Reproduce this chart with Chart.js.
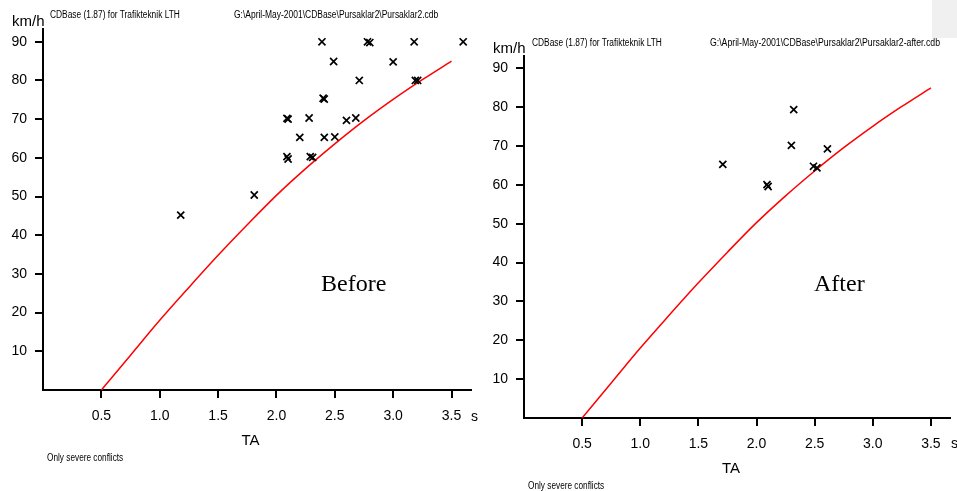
<!DOCTYPE html>
<html><head><meta charset="utf-8">
<script src="https://cdn.jsdelivr.net/npm/chart.js@4"></script>
<style>
html,body{margin:0;padding:0;background:#fff}
body{width:957px;height:491px;position:relative;overflow:hidden;font-family:"Liberation Sans",Arial,sans-serif}
.c{position:absolute;top:0}
.t{position:absolute;white-space:nowrap;color:#000;line-height:1;display:inline-block;transform-origin:0 50%}
</style></head><body>
<div style="position:absolute;left:932px;top:0;width:25px;height:38px;background:#f0f0f0"></div>
<div class="c" style="left:0"><canvas id="c1" width="480" height="491"></canvas></div>
<div class="c" style="left:480px"><canvas id="c2" width="477" height="491"></canvas></div>
<script>
// ---- data ----
const xTicks = [0.5, 1.0, 1.5, 2.0, 2.5, 3.0, 3.5];
const xTickLabels = ['0.5', '1.0', '1.5', '2.0', '2.5', '3.0', '3.5'];
const yTicks = [10, 20, 30, 40, 50, 60, 70, 80, 90];
const yTickLabels = ['10', '20', '30', '40', '50', '60', '70', '80', '90'];

// severity boundary curve (TA [s] vs speed [km/h])
const curveTA    = [0.5, 0.75, 1.0, 1.25, 1.5, 1.75, 2.0, 2.25, 2.5, 2.75, 3.0, 3.25, 3.5];
const curveSpeed = [0,   9,    18,  26.5, 34.8, 42.7, 50.3, 57.2, 63.6, 69.6, 75.1, 80.2, 85];

// Before conflicts
const beforeTA    = [1.18, 1.81, 2.09, 2.10, 2.09, 2.10, 2.20, 2.28, 2.29, 2.31, 2.39, 2.40, 2.41, 2.41, 2.49, 2.50, 2.60, 2.68, 2.71, 2.78, 2.80, 3.00, 3.18, 3.19, 3.21, 3.60];
const beforeSpeed = [45.2, 50.4, 70.2, 70.0, 60.3, 59.7, 65.3, 70.3, 60.3, 60.1, 90.0, 75.4, 75.2, 65.3, 84.9, 65.4, 69.7, 70.3, 80.0, 90.0, 89.8, 84.8, 90.0, 80.0, 80.0, 90.0];

// After conflicts
const afterTA    = [1.71, 2.09, 2.10, 2.30, 2.32, 2.49, 2.52, 2.61];
const afterSpeed = [65.3, 60.1, 59.6, 70.2, 79.4, 64.8, 64.4, 69.3];

// ---- chart ----
const FAM = '"Liberation Sans", Arial, sans-serif';
function makeChart(id, ta, speed, xMax, yMax, pad) {
  return new Chart(document.getElementById(id), {
    type: 'scatter',
    data: {
      datasets: [
        {
          data: curveTA.map((x, i) => ({x: x, y: curveSpeed[i]})),
          showLine: true, borderColor: '#ff0000', borderWidth: 1.5,
          pointRadius: 0, cubicInterpolationMode: 'monotone', fill: false, order: 2
        },
        {
          data: ta.map((x, i) => ({x: x, y: speed[i]})),
          pointStyle: 'crossRot', pointRadius: 5, borderColor: '#000',
          backgroundColor: '#000', borderWidth: 1.7, order: 1
        }
      ]
    },
    options: {
      responsive: false, animation: false, devicePixelRatio: 1,
      layout: {padding: pad},
      plugins: {legend: {display: false}, tooltip: {enabled: false}},
      scales: {
        x: {
          type: 'linear', min: 0, max: xMax,
          afterBuildTicks: s => { s.ticks = xTicks.map(v => ({value: v})); },
          afterFit: s => { s.height = 60; },
          ticks: {
            callback: v => xTickLabels[xTicks.indexOf(v)],
            color: '#000', font: {size: 14, family: FAM}, padding: 10,
            maxRotation: 0, autoSkip: false
          },
          grid: {drawOnChartArea: false, drawTicks: true, tickLength: 8, color: '#000', lineWidth: 2},
          border: {color: '#000', width: 2}
        },
        y: {
          type: 'linear', min: 0, max: yMax,
          afterBuildTicks: s => { s.ticks = yTicks.map(v => ({value: v})); },
          afterFit: s => { s.width = pad.yw; },
          ticks: {
            callback: v => yTickLabels[yTicks.indexOf(v)],
            color: '#000', font: {size: 14, family: FAM}, padding: 8, autoSkip: false
          },
          grid: {drawOnChartArea: false, drawTicks: true, tickLength: 8, color: '#000', lineWidth: 2},
          border: {color: '#000', width: 2}
        }
      }
    }
  });
}
makeChart('c1', beforeTA, beforeSpeed, 3.667, 93.3, {left: 0, top: 29, right: 9, bottom: 41, yw: 43});
makeChart('c2', afterTA, afterSpeed, 3.667, 93.2, {left: 0, top: 56, right: 6, bottom: 13, yw: 44});

// ---- texts ----
function label(txt, x, yc, size, opts) {
  opts = opts || {};
  const d = document.createElement('div');
  d.className = 't';
  d.textContent = txt;
  d.style.fontSize = size + 'px';
  d.style.fontFamily = opts.family || FAM;
  document.body.appendChild(d);
  const w = d.offsetWidth;
  let left = x;
  if (opts.center) left = x - w / 2;
  d.style.left = left + 'px';
  d.style.top = (yc - d.offsetHeight / 2) + 'px';
  if (opts.width) d.style.transform = 'scaleX(' + (opts.width / w) + ')';
}
const small = 10;
// left panel
label('km/h', 12, 20, 15);
label('CDBase (1.87) for Trafikteknik LTH', 50, 15, small, {width: 130});
label('G:\\April-May-2001\\CDBase\\Pursaklar2\\Pursaklar2.cdb', 234, 15, small, {width: 204});
label('Before', 321, 283, 24, {family: '"Liberation Serif", "Times New Roman", serif'});
label('TA', 250.5, 439, 15, {center: true});
label('s', 471, 416, 14);
label('Only severe conflicts', 47, 458, small, {width: 76});
// right panel
label('km/h', 493, 47, 15);
label('CDBase (1.87) for Trafikteknik LTH', 532, 43, small, {width: 130});
label('G:\\April-May-2001\\CDBase\\Pursaklar2\\Pursaklar2-after.cdb', 710, 43, small, {width: 230});
label('After', 814, 283, 24, {family: '"Liberation Serif", "Times New Roman", serif'});
label('TA', 731, 467, 15, {center: true});
label('s', 951, 443, 14);
label('Only severe conflicts', 528, 486, small, {width: 76});
</script>
</body></html>
